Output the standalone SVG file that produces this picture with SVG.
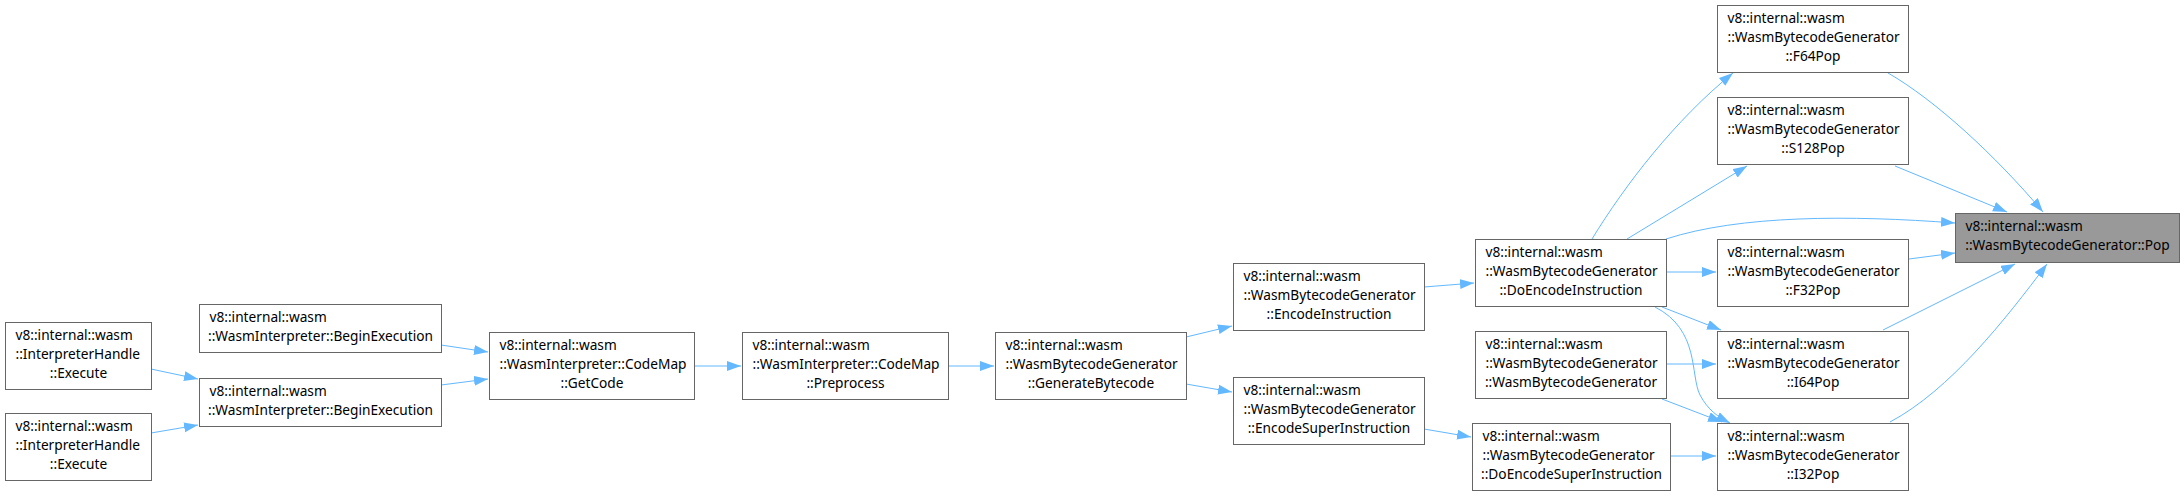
<svg xmlns="http://www.w3.org/2000/svg" width="2184" height="496" viewBox="0 0 2184 496">
<style>
.n rect{fill:#ffffff;stroke:#666666;stroke-width:1}
.n.hl rect{fill:#999999}
.n text{font-family:"Noto Sans",sans-serif;font-size:13.7px;fill:#000000}
.c{text-anchor:middle}
#edges path{fill:none;stroke:#63b8ff;stroke-width:1;marker-end:url(#arr)}
</style>
<defs>
<marker id="arr" markerUnits="userSpaceOnUse" markerWidth="16" markerHeight="12" refX="14" refY="5" orient="auto">
<path d="M0,0 L14,5 L0,10 z" fill="#63b8ff"/>
</marker>
</defs>
<rect width="2184" height="496" fill="#ffffff"/>
<g id="edges">
<path d="M151,369 L198,379"/>
<path d="M151,433 L198,425"/>
<path d="M441,345 L488,352"/>
<path d="M441,385 L488,379"/>
<path d="M694,366 L741,366"/>
<path d="M948,366 L994,366"/>
<path d="M1186,337 L1232,326"/>
<path d="M1186,384 L1232,392"/>
<path d="M1424,287 L1474,283"/>
<path d="M1424,429 L1471,437"/>
<path d="M1592,239 C1625,185 1675,120 1733,73"/>
<path d="M1627,239 L1747,166"/>
<path d="M1666,239 C1740,215 1850,215 1955,223"/>
<path d="M1666,272 L1716,272"/>
<path d="M1662,307 L1721,330"/>
<path d="M1655,307 C1700,330 1690,375 1700,395 C1708,410 1718,417 1730,423"/>
<path d="M1666,364 L1716,364"/>
<path d="M1662,399 L1722,422"/>
<path d="M1670,456 L1716,456"/>
<path d="M1888,73 C1935,100 1995,155 2043,212"/>
<path d="M1895,166 L2007,212"/>
<path d="M1909,259 L1955,253"/>
<path d="M1883,330 L2015,264"/>
<path d="M1890,422 C1950,390 2005,320 2047,264"/>
</g>
<g id="n1" class="n"><rect x="5.5" y="322.5" width="146" height="67"/><text x="15.5" y="340">v8::internal::wasm</text><text x="15.5" y="359">::InterpreterHandle</text><text class="c" x="78.5" y="378">::Execute</text></g>
<g id="n2" class="n"><rect x="5.5" y="413.5" width="146" height="67"/><text x="15.5" y="431">v8::internal::wasm</text><text x="15.5" y="450">::InterpreterHandle</text><text class="c" x="78.5" y="469">::Execute</text></g>
<g id="n3" class="n"><rect x="199.5" y="304.5" width="242" height="48"/><text x="209.5" y="322">v8::internal::wasm</text><text class="c" x="320.5" y="341">::WasmInterpreter::BeginExecution</text></g>
<g id="n4" class="n"><rect x="199.5" y="378.5" width="242" height="48"/><text x="209.5" y="396">v8::internal::wasm</text><text class="c" x="320.5" y="415">::WasmInterpreter::BeginExecution</text></g>
<g id="n5" class="n"><rect x="489.5" y="332.5" width="205" height="67"/><text x="499.5" y="350">v8::internal::wasm</text><text x="499.5" y="369">::WasmInterpreter::CodeMap</text><text class="c" x="592" y="388">::GetCode</text></g>
<g id="n6" class="n"><rect x="742.5" y="332.5" width="206" height="67"/><text x="752.5" y="350">v8::internal::wasm</text><text x="752.5" y="369">::WasmInterpreter::CodeMap</text><text class="c" x="845.5" y="388">::Preprocess</text></g>
<g id="n7" class="n"><rect x="995.5" y="332.5" width="191" height="67"/><text x="1005.5" y="350">v8::internal::wasm</text><text x="1005.5" y="369">::WasmBytecodeGenerator</text><text class="c" x="1091" y="388">::GenerateBytecode</text></g>
<g id="n8" class="n"><rect x="1233.5" y="263.5" width="191" height="67"/><text x="1243.5" y="281">v8::internal::wasm</text><text x="1243.5" y="300">::WasmBytecodeGenerator</text><text class="c" x="1329" y="319">::EncodeInstruction</text></g>
<g id="n9" class="n"><rect x="1233.5" y="377.5" width="191" height="67"/><text x="1243.5" y="395">v8::internal::wasm</text><text x="1243.5" y="414">::WasmBytecodeGenerator</text><text class="c" x="1329" y="433">::EncodeSuperInstruction</text></g>
<g id="n10" class="n"><rect x="1475.5" y="239.5" width="191" height="67"/><text x="1485.5" y="257">v8::internal::wasm</text><text x="1485.5" y="276">::WasmBytecodeGenerator</text><text class="c" x="1571" y="295">::DoEncodeInstruction</text></g>
<g id="n11" class="n"><rect x="1475.5" y="331.5" width="191" height="67"/><text x="1485.5" y="349">v8::internal::wasm</text><text x="1485.5" y="368">::WasmBytecodeGenerator</text><text class="c" x="1571" y="387">::WasmBytecodeGenerator</text></g>
<g id="n12" class="n"><rect x="1472.5" y="423.5" width="198" height="67"/><text x="1482.5" y="441">v8::internal::wasm</text><text x="1482.5" y="460">::WasmBytecodeGenerator</text><text class="c" x="1571.5" y="479">::DoEncodeSuperInstruction</text></g>
<g id="n13" class="n"><rect x="1717.5" y="5.5" width="191" height="67"/><text x="1727.5" y="23">v8::internal::wasm</text><text x="1727.5" y="42">::WasmBytecodeGenerator</text><text class="c" x="1813" y="61">::F64Pop</text></g>
<g id="n14" class="n"><rect x="1717.5" y="97.5" width="191" height="67"/><text x="1727.5" y="115">v8::internal::wasm</text><text x="1727.5" y="134">::WasmBytecodeGenerator</text><text class="c" x="1813" y="153">::S128Pop</text></g>
<g id="n15" class="n"><rect x="1717.5" y="239.5" width="191" height="67"/><text x="1727.5" y="257">v8::internal::wasm</text><text x="1727.5" y="276">::WasmBytecodeGenerator</text><text class="c" x="1813" y="295">::F32Pop</text></g>
<g id="n16" class="n"><rect x="1717.5" y="331.5" width="191" height="67"/><text x="1727.5" y="349">v8::internal::wasm</text><text x="1727.5" y="368">::WasmBytecodeGenerator</text><text class="c" x="1813" y="387">::I64Pop</text></g>
<g id="n17" class="n"><rect x="1717.5" y="423.5" width="191" height="67"/><text x="1727.5" y="441">v8::internal::wasm</text><text x="1727.5" y="460">::WasmBytecodeGenerator</text><text class="c" x="1813" y="479">::I32Pop</text></g>
<g id="n18" class="n hl"><rect x="1955.5" y="213.5" width="224" height="49"/><text x="1965.5" y="231">v8::internal::wasm</text><text class="c" x="2067.5" y="250">::WasmBytecodeGenerator::Pop</text></g>
</svg>
